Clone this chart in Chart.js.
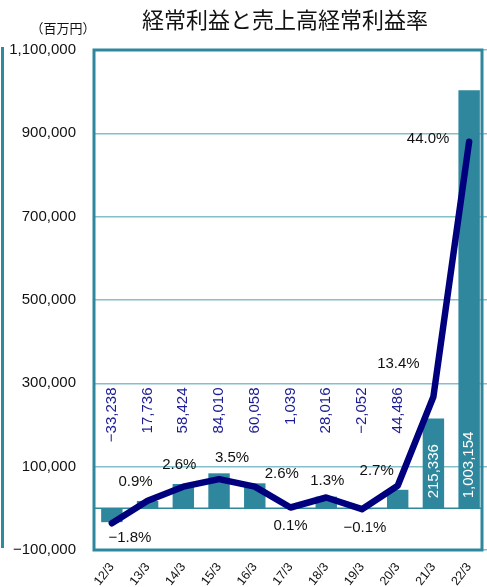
<!DOCTYPE html>
<html>
<head>
<meta charset="utf-8">
<script src="https://cdn.jsdelivr.net/npm/chart.js@4/dist/chart.umd.min.js"></script>
<style>
html, body { margin: 0; padding: 0; background: #fff; }
#wrap { position: relative; width: 487px; height: 587px; }
#edge { position: absolute; left: 1px; top: 47px; height: 501px; border-left: 3px solid #2e8b9e; }
</style>
</head>
<body>
<div id="wrap">
  <div id="edge"></div>
  <canvas id="grafico" width="487" height="587"></canvas>
</div>
<script>
const periods = ['12/3', '13/3', '14/3', '15/3', '16/3', '17/3', '18/3', '19/3', '20/3', '21/3', '22/3'];
const ordinaryProfit = [-33238, 17736, 58424, 84010, 60058, 1039, 28016, -2052, 44486, 215336, 1003154]; // 百万円
const profitRate = [-1.8, 0.9, 2.6, 3.5, 2.6, 0.1, 1.3, -0.1, 2.7, 13.4, 44.0]; // %
const yTickValues = [-100000, 100000, 300000, 500000, 700000, 900000, 1100000];

const teal = '#2e879c';
const navy = '#00007f';
const numFont = '"Liberation Sans", Arial, sans-serif';
const jpFont = '"Noto Sans CJK JP", sans-serif';

function fmt(v) {
    return v.toLocaleString('en-US').replace('-', '\u2212');
}

// ラベルの置き場所（点からのずらし量）
const rateLabelShift = [[18, 15], [-12, -19], [-4, -22], [13, -21], [27, -13], [0, 18], [1, -17], [3, 19], [-21, -15], [-35, -33], [-41, -3]];

const decor = {
    id: 'decor',
    beforeDatasetsDraw(chart) {
        const { ctx, chartArea: a, scales: { y } } = chart;
        const y0 = y.getPixelForValue(0);
        ctx.save();
        ctx.strokeStyle = teal;
        ctx.lineWidth = 1.5;
        ctx.beginPath();
        ctx.moveTo(a.left, y0);
        ctx.lineTo(a.right - 5, y0);
        ctx.stroke();
        ctx.restore();
    },
    afterDatasetsDraw(chart) {
        const { ctx, chartArea: a, scales: { y } } = chart;
        ctx.save();
        // 枠
        ctx.strokeStyle = teal;
        ctx.lineWidth = 3;
        ctx.strokeRect(a.left, a.top, a.right - 5 - a.left, a.bottom - a.top);

        // 経常利益の値（縦書き）
        const bars = chart.getDatasetMeta(1).data;
        ctx.font = '15px ' + numFont;
        ctx.textBaseline = 'middle';
        bars.forEach((bar, i) => {
            const v = ordinaryProfit[i];
            const inside = v > 200000;
            ctx.save();
            if (inside) {
                ctx.translate(bar.x, y.getPixelForValue(0) - 10);
                ctx.rotate(-Math.PI / 2);
                ctx.textAlign = 'left';
                ctx.fillStyle = '#ffffff';
            } else {
                ctx.translate(bar.x, y.getPixelForValue(290000));
                ctx.rotate(-Math.PI / 2);
                ctx.textAlign = 'right';
                ctx.fillStyle = '#1c1c96';
            }
            ctx.fillText(fmt(v), 0, 0);
            ctx.restore();
        });

        // 利益率
        const pts = chart.getDatasetMeta(0).data;
        ctx.fillStyle = '#111';
        ctx.textAlign = 'center';
        pts.forEach((p, i) => {
            const s = rateLabelShift[i];
            ctx.fillText(profitRate[i].toFixed(1).replace('-', '\u2212') + '%', p.x + s[0], p.y + s[1]);
        });
        ctx.restore();
    },
    afterDraw(chart) {
        const { ctx } = chart;
        ctx.save();
        ctx.fillStyle = '#111';
        ctx.textAlign = 'center';
        ctx.textBaseline = 'middle';
        ctx.font = '22px ' + jpFont;
        ctx.fillText('経常利益と売上高経常利益率', 285, 20);
        ctx.font = '13px ' + jpFont;
        ctx.fillText('（百万円）', 63, 28);
        ctx.restore();
    }
};

const ctx = document.getElementById('grafico').getContext('2d');
const chart = new Chart(ctx, {
    data: {
        labels: periods,
        datasets: [{
            type: 'line',
            label: '売上高経常利益率',
            data: profitRate,
            yAxisID: 'y1',
            borderColor: navy,
            borderWidth: 6.5,
            pointRadius: 0,
            tension: 0,
            borderJoinStyle: 'round',
            borderCapStyle: 'round',
            order: 0
        }, {
            type: 'bar',
            label: '経常利益',
            data: ordinaryProfit,
            yAxisID: 'y',
            backgroundColor: teal,
            categoryPercentage: 1,
            barPercentage: 0.6,
            order: 1
        }]
    },
    options: {
        responsive: false,
        animation: false,
        layout: { padding: { top: 50, right: 0, left: 0, bottom: 0 } },
        plugins: { legend: { display: false }, tooltip: { enabled: false } },
        scales: {
            x: {
                grid: { display: false },
                border: { display: false },
                ticks: {
                    color: '#111',
                    font: { size: 12.5, family: numFont },
                    minRotation: 52,
                    maxRotation: 52,
                    padding: 2
                },
                afterFit: s => { s.height = 37; }
            },
            y: {
                min: -100000,
                max: 1100000,
                afterBuildTicks: s => { s.ticks = yTickValues.map(v => ({ value: v })); },
                grid: { color: '#86bfcc', lineWidth: 1.5, drawTicks: false },
                border: { display: false },
                ticks: {
                    color: '#111',
                    font: { size: 15, family: numFont },
                    padding: 18,
                    callback: v => fmt(v)
                },
                afterFit: s => { s.width = 94; }
            },
            y1: {
                display: false,
                min: -5,
                max: 55
            }
        }
    },
    plugins: [decor]
});
</script>
</body>
</html>
